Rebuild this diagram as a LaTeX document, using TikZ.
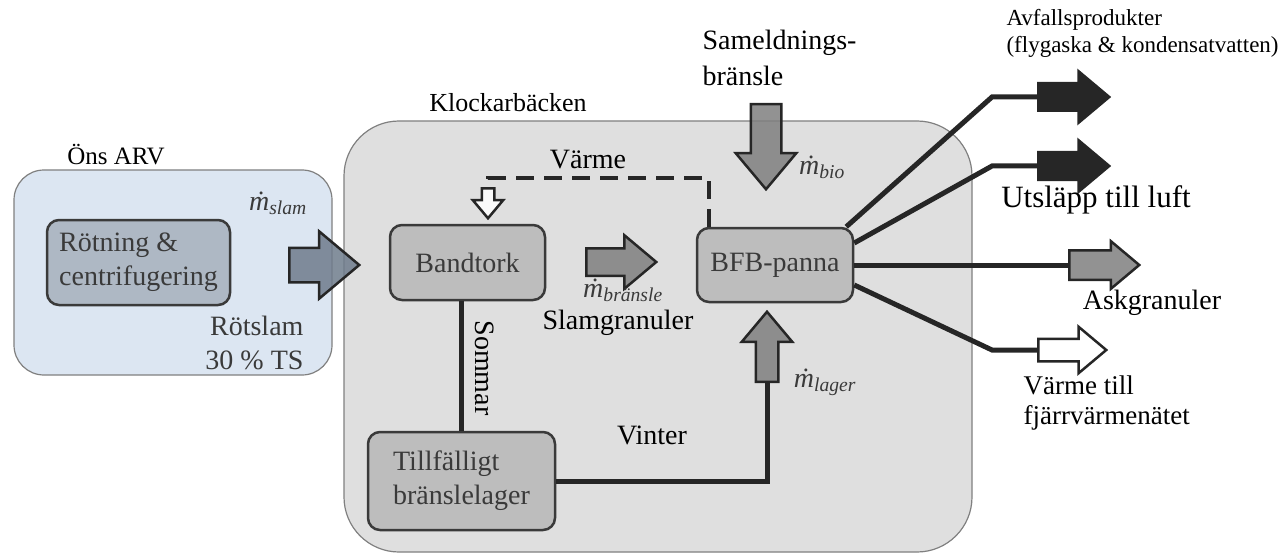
\RequirePackage{fix-cm}
\documentclass[tikz,border=0pt]{standalone}
\usepackage{fontspec}
\setmainfont{Liberation Serif}
\newfontfamily\diagfont{Liberation Serif}
\usetikzlibrary{calc, shapes.arrows}

\definecolor{arvblue}{HTML}{DCE6F2}
\definecolor{arvbox}{HTML}{AEB8C4}
\definecolor{plantgray}{HTML}{DFDFDF}
\definecolor{unitgray}{HTML}{BDBDBD}
\definecolor{flowgray}{HTML}{7F7F7F}
\definecolor{slate}{HTML}{6F7C8C}
\definecolor{ink}{HTML}{3A3A3A}

% mass flow label, e.g. \mflow{slam}
\newcommand{\mflow}[1]{\textit{ṁ}\textsubscript{\textit{#1}}}

\begin{document}
\begin{tikzpicture}[x=1pt, y=-1pt]
\tikzset{every node/.style={font=\diagfont\fontsize{28}{34}\selectfont},
  site/.style={draw=gray, line width=1.2pt, rounded corners=30pt},
  unit/.style={draw=ink, line width=2.5pt, rounded corners=12pt, text=ink, align=left, fill=unitgray},
  flow/.style={single arrow, draw=black!85, line width=2.5pt, inner xsep=0pt, single arrow tip angle=80, fill=flowgray, fill opacity=0.85, text opacity=1, anchor=tail},
  link/.style={draw=black!85, line width=5pt},
  rate/.style={font=\diagfont\fontsize{28}{30}\selectfont, text=ink, inner sep=0pt}}

\useasboundingbox (0,0) rectangle (1280,559);

% sites
\node[site, fill=arvblue, minimum width=318pt, minimum height=205pt] (arv) at (173,272.5) {};
\node[font=\diagfont\fontsize{25}{28}\selectfont] (arvname) at (116,155) {Öns ARV};
\node[site, fill=plantgray, rounded corners=55pt, minimum width=628pt, minimum height=431pt] (plant) at (658,336.5) {};
\node[font=\diagfont\fontsize{26}{30}\selectfont] (plantname) at (508,103) {Klockarbäcken};

% units
\node[unit, fill=arvbox, minimum width=183pt, minimum height=85pt] (digest) at (138.5,262.5) {Rötning \&\\centrifugering};
\node[unit, minimum width=155pt, minimum height=75pt] (dryer) at (467.5,262.5) {Bandtork};
\node[unit, minimum width=156pt, minimum height=74pt] (boiler) at (775,265) {BFB-panna};
\node[unit, minimum width=187pt, minimum height=98pt] (store) at (461.5,481) {Tillfälligt\\bränslelager};

% block arrows
\node[flow, fill=slate, inner ysep=16pt, single arrow head extend=16.5pt, minimum height=70pt] (sludge) at (288,265) {};
\node[flow, inner ysep=12.5pt, single arrow head extend=13pt, minimum height=70pt] (granules) at (585,262) {};
\node[flow, rotate=-90, inner ysep=14pt, single arrow head extend=15pt, minimum height=85pt] (cofuel) at (766,103) {};
\node[flow, rotate=90, inner ysep=10pt, single arrow head extend=14pt, minimum height=70pt] (stock) at (767,383) {};
\node[flow, fill=white, rotate=-90, inner ysep=5pt, single arrow head extend=9pt, minimum height=30pt] (heat) at (488,187) {};
\node[flow, fill=black, inner ysep=12.5pt, single arrow head extend=12pt, minimum height=71pt] (waste) at (1037,97) {};
\node[flow, fill=black, inner ysep=12.5pt, single arrow head extend=12pt, minimum height=71pt] (air) at (1037,166) {};
\node[flow, inner ysep=13.5pt, single arrow head extend=9pt, minimum height=70pt] (ash) at (1068,265) {};
\node[flow, fill=white, inner ysep=10pt, single arrow head extend=12pt, minimum height=68pt] (district) at (1037,350) {};

% connectors
\draw[link] (dryer.south -| store.north) -- (store.north);
\draw[link] (store.east) -| (stock.tail);
\draw[link, line width=4pt, dash pattern=on 18pt off 10pt] ($(boiler.north west)+(13,0)$) -- ++(0,-49) -| (heat.tail);
\draw[link] ($(boiler.north east)+(-8,0)$) -- (992,97) -- (waste.tail);
\draw[link] ($(boiler.east)+(0,-22)$) -- (992,166) -- (air.tail);
\draw[link] (boiler.east) -- (ash.tail);
\draw[link] ($(boiler.east)+(0,20)$) -- (992,350) -- (district.tail);

% labels
\node[rate] (mslam) at (278,203) {\mflow{slam}};
\node[align=right, anchor=east, text=ink] (sludgetxt) at (307,343) {Rötslam\\30 \% TS};
\node (heattxt) at (588,160) {Värme};
\node[rate] (mfuel) at (623,290) {\mflow{bränsle}};
\node[inner sep=1pt] (granuletxt) at (618,323) {Slamgranuler};
\node[align=left, anchor=west, font=\diagfont\fontsize{28}{36}\selectfont] (cofueltxt) at (699,58) {Sameldnings-\\bränsle};
\node[rate] (mbio) at (822,167) {\mflow{bio}};
\node[rate] (mstock) at (825,382) {\mflow{lager}};
\node[rotate=-90] (summertxt) at (485,368) {Sommar};
\node (wintertxt) at (652,435) {Vinter};
\node[align=left, anchor=west, font=\diagfont\fontsize{23}{27}\selectfont] (wastetxt) at (1003,33) {Avfallsprodukter\\(flygaska \& kondensatvatten)};
\node[font=\diagfont\fontsize{31}{35}\selectfont] (airtxt) at (1096,200) {Utsläpp till luft};
\node (ashtxt) at (1152,303) {Askgranuler};
\node[align=left, anchor=west, font=\diagfont\fontsize{27}{30}\selectfont] (districttxt) at (1020,403) {Värme till\\fjärrvärmenätet};

\end{tikzpicture}
\end{document}
